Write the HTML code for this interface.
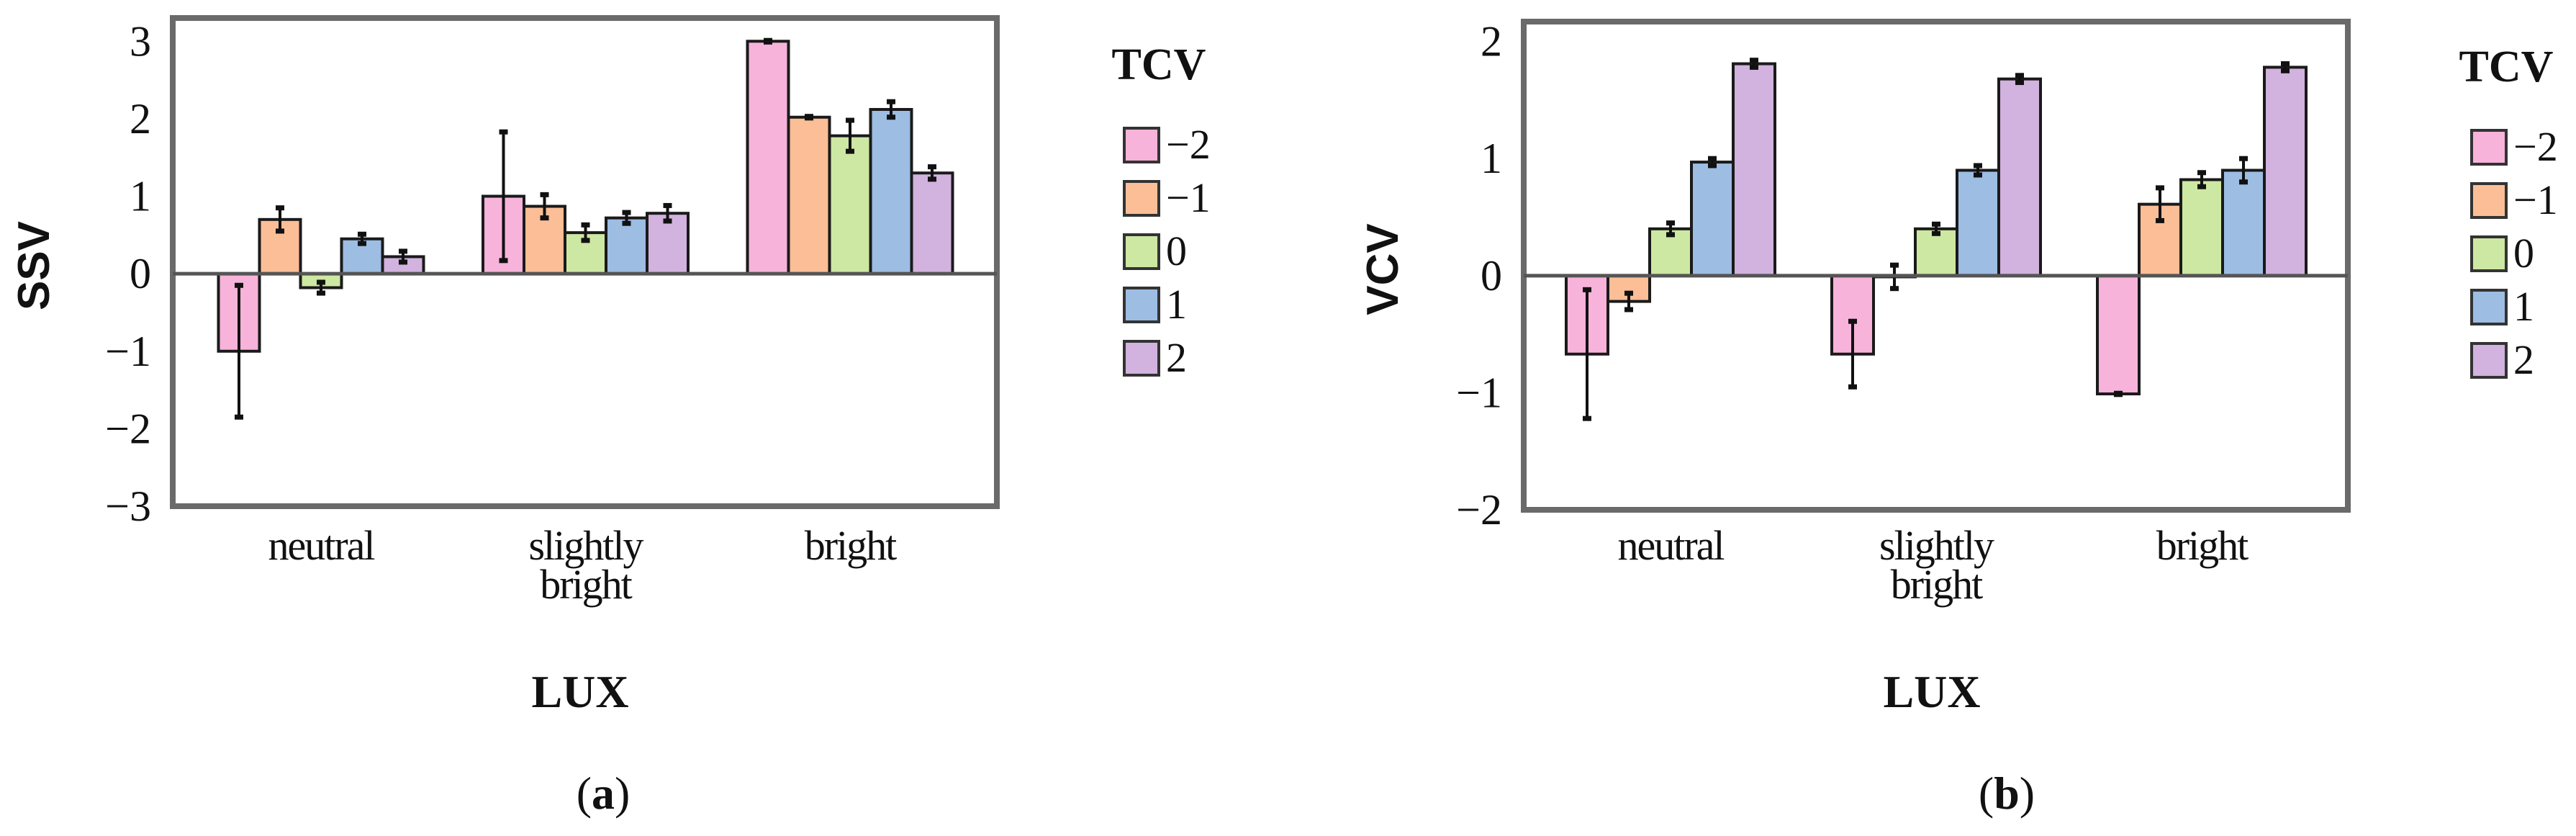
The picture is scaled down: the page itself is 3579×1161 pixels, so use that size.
<!DOCTYPE html>
<html><head><meta charset="utf-8"><style>
html,body{margin:0;padding:0;background:#fff}
svg{display:block}
text{font-family:"Liberation Serif",serif;fill:#111}
</style></head><body>
<svg id="chart" width="3579" height="1161" viewBox="0 0 3579 1161" xmlns="http://www.w3.org/2000/svg">
<g id="pa"></g>
<g id="pb"></g>
</svg>
<script>
const categories = ["neutral", "slightly bright", "bright"];
const seriesNames = ["\u22122", "\u22121", "0", "1", "2"];
const colors = ["#F7B3DA", "#FBBE96", "#CDE8A2", "#9DBDE3", "#D2B2DF"];
// Panel (a) SSV: values per series [neutral, slightly bright, bright]
const ssvM2 = [-1.0, 1.0, 3.0];
const ssvM1 = [0.7, 0.87, 2.02];
const ssv0 = [-0.18, 0.53, 1.78];
const ssv1 = [0.45, 0.72, 2.12];
const ssv2 = [0.22, 0.78, 1.3];
const ssvErrM2 = [0.85, 0.83, 0.01];
const ssvErrM1 = [0.15, 0.15, 0.01];
const ssvErr0 = [0.07, 0.1, 0.2];
const ssvErr1 = [0.06, 0.07, 0.1];
const ssvErr2 = [0.07, 0.1, 0.08];
const ssvTicks = [-3, -2, -1, 0, 1, 2, 3];
// Panel (b) VCV
const vcvM2 = [-0.67, -0.67, -1.01];
const vcvM1 = [-0.22, -0.01, 0.61];
const vcv0 = [0.4, 0.4, 0.82];
const vcv1 = [0.97, 0.9, 0.9];
const vcv2 = [1.81, 1.68, 1.78];
const vcvErrM2 = [0.55, 0.28, 0.005];
const vcvErrM1 = [0.07, 0.1, 0.14];
const vcvErr0 = [0.05, 0.04, 0.06];
const vcvErr1 = [0.03, 0.04, 0.1];
const vcvErr2 = [0.03, 0.03, 0.03];
const vcvTicks = [-2, -1, 0, 1, 2];

const NS = "http://www.w3.org/2000/svg";
function mk(parent, tag, attrs, txt) {
  const e = document.createElementNS(NS, tag);
  for (const k in attrs) e.setAttribute(k, attrs[k]);
  if (txt !== undefined) e.textContent = txt;
  parent.appendChild(e);
  return e;
}

function drawPanel(g, cfg) {
  const {left, right, top, bottom, ymin, ymax, c0, cstep, barW, ticks, series, errs, ylabel, ylabelX, legX, legY, lux, tag} = cfg;
  const y = v => bottom - (v - ymin) / (ymax - ymin) * (bottom - top);
  const x = (ci, si) => c0 + ci * cstep + (si - 2.5) * barW;
  // frame
  const frame = mk(g, "rect", {x: left, y: top, width: right - left, height: bottom - top, fill: "#fff", stroke: "#6a6a6a", "stroke-width": 8});
  
  
  // ticks
  ticks.forEach(t => {
    const tl = mk(g, "text", {x: left - 30, y: y(t) + 20, "font-size": 60, "text-anchor": "end"}, t < 0 ? "\u2212" + (-t) : String(t));
    
    
  });
  // bars
  categories.forEach((c, ci) => {
    series.forEach((vals, si) => {
      const v = vals[ci];
      const x0 = x(ci, si);
      const b = mk(g, "rect", {x: x0, y: Math.min(y(v), y(0)), width: barW, height: Math.abs(y(v) - y(0)), fill: colors[si], stroke: "#1a1a1a", "stroke-width": 4});
      
      
      const e = errs[si][ci];
      const cx = x0 + barW / 2;
      const eb = mk(g, "g", {stroke: "#111", "stroke-width": 4});
      
      
      mk(eb, "line", {x1: cx, x2: cx, y1: y(v + e), y2: y(v - e)});
      mk(eb, "line", {x1: cx - 6, x2: cx + 6, y1: y(v + e), y2: y(v + e), "stroke-width": 7});
      mk(eb, "line", {x1: cx - 6, x2: cx + 6, y1: y(v - e), y2: y(v - e), "stroke-width": 7});
    });
    const words = c.split(" ");
    const cl = mk(g, "text", {x: c0 + ci * cstep, y: 777, "font-size": 58, "text-anchor": "middle", "letter-spacing": "-2"});
    
    
    words.forEach((w, wi) => mk(cl, "tspan", {x: c0 + ci * cstep, dy: wi === 0 ? 0 : 54}, w));
  });
  // zero line
  const z = mk(g, "line", {x1: left, x2: right, y1: y(0), y2: y(0), stroke: "#555", "stroke-width": 5});
  
  
  // y label
  const yl = mk(g, "text", {x: ylabelX, y: (top + bottom) / 2 + 5, "font-size": 62, "font-weight": "bold", "text-anchor": "middle", transform: `rotate(-90 ${ylabelX} ${(top + bottom) / 2 + 5})`, style: "font-family:'Liberation Sans',sans-serif"}, ylabel);
  
  
  const xl = mk(g, "text", {x: lux, y: 982, "font-size": 64, "font-weight": "bold", "text-anchor": "middle"}, "LUX");
  
  
  const pl = mk(g, "text", {x: cfg.tagX, y: 1123, "font-size": 64, "text-anchor": "middle"});
  
  
  mk(pl, "tspan", {}, "(");
  mk(pl, "tspan", {"font-weight": "bold"}, tag);
  mk(pl, "tspan", {}, ")");
  // legend
  const lg = mk(g, "g", {});
  
  
  const lt = mk(lg, "text", {x: legX + 48, y: legY - 68, "font-size": 62, "font-weight": "bold", "text-anchor": "middle"}, "TCV");
  
  
  seriesNames.forEach((s, si) => {
    const ent = mk(lg, "g", {});
    
    
    mk(ent, "rect", {x: legX, y: legY + si * 74, width: 48, height: 47, fill: colors[si], stroke: "#333", "stroke-width": 4});
    mk(ent, "text", {x: legX + 58, y: legY + si * 74 + 42, "font-size": 58}, s);
  });
}

drawPanel(document.getElementById("pa"), {
  left: 240, right: 1385, top: 25, bottom: 703, ymin: -3, ymax: 3.3,
  c0: 446, cstep: 367.5, barW: 57, ticks: ssvTicks,
  series: [ssvM2, ssvM1, ssv0, ssv1, ssv2], errs: [ssvErrM2, ssvErrM1, ssvErr0, ssvErr1, ssvErr2],
  ylabel: "SSV", ylabelX: 68, legX: 1562, legY: 178, lux: 806, tagX: 838, tag: "a"
});
drawPanel(document.getElementById("pb"), {
  left: 2117, right: 3262, top: 30, bottom: 708, ymin: -2, ymax: 2.17,
  c0: 2321, cstep: 369, barW: 58, ticks: vcvTicks,
  series: [vcvM2, vcvM1, vcv0, vcv1, vcv2], errs: [vcvErrM2, vcvErrM1, vcvErr0, vcvErr1, vcvErr2],
  ylabel: "VCV", ylabelX: 1942, legX: 3434, legY: 181, lux: 2684, tagX: 2788, tag: "b"
});
</script>
</body></html>
